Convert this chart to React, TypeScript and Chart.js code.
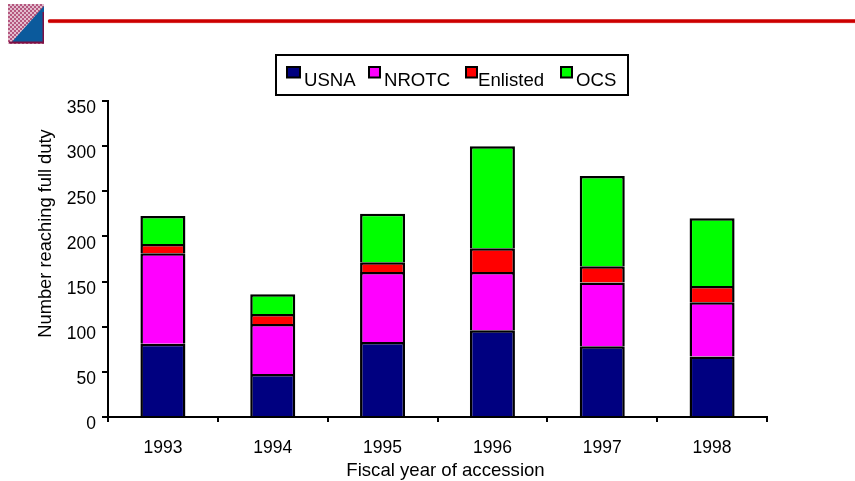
import React, { useEffect, useRef } from "react";
import { Chart, registerables } from "chart.js";

Chart.register(...registerables);

const years = ["1993", "1994", "1995", "1996", "1997", "1998"];
const usna = [81, 47.5, 83, 96, 78.5, 67];
const nrotc = [100.5, 55.5, 77.5, 64.5, 70.5, 60];
const enlisted = [10, 11, 11, 26.5, 18, 18];
const ocs = [31, 22, 53.5, 113, 100, 75];

const seriesNames = ["USNA", "NROTC", "Enlisted", "OCS"];
const seriesColors = ["#000080", "#ff00ff", "#ff0000", "#00ff00"];
const yTitle = "Number reaching full duty";
const xTitle = "Fiscal year of accession";
const FONT = '"Liberation Sans", Arial, sans-serif';

const legendSwatchX = [287, 369, 466, 561];
const legendSwatchW = [13, 11, 11, 11];
const legendTextX = [304, 384, 478, 576];

const decorPlugin = {
  id: "decor",
  afterDraw(chart: any) {
    const ctx = chart.ctx as CanvasRenderingContext2D;
    ctx.save();

    // logo
    ctx.fillStyle = "#e2bccd";
    ctx.fillRect(8, 4, 36, 40);
    ctx.fillStyle = "#b5577f";
    for (let y = 4; y < 44; y += 2) {
      for (let x = 8 + ((y / 2) % 2) * 2; x < 44; x += 4) {
        ctx.fillRect(x, y, 2, 2);
      }
    }
    ctx.fillStyle = "#0b5a9c";
    ctx.beginPath();
    ctx.moveTo(44, 6);
    ctx.lineTo(44, 43);
    ctx.lineTo(11, 43);
    ctx.closePath();
    ctx.fill();
    ctx.fillStyle = "#7c1044";
    ctx.fillRect(9, 41.5, 35, 2);
    ctx.fillRect(42.5, 12, 1.5, 31);

    // rule
    ctx.fillStyle = "#f4a0a0";
    ctx.fillRect(48, 22, 807, 1.2);
    ctx.strokeStyle = "#cc0000";
    ctx.lineWidth = 3.4;
    ctx.lineCap = "round";
    ctx.beginPath();
    ctx.moveTo(49.5, 21);
    ctx.lineTo(860, 21);
    ctx.stroke();

    // legend
    ctx.lineCap = "butt";
    ctx.strokeStyle = "#000";
    ctx.lineWidth = 2;
    ctx.fillStyle = "#fff";
    ctx.fillRect(276, 55, 352, 40);
    ctx.strokeRect(276, 55, 352, 40);
    ctx.font = `18.6px ${FONT}`;
    ctx.textBaseline = "alphabetic";
    ctx.textAlign = "left";
    seriesNames.forEach((name, i) => {
      ctx.fillStyle = seriesColors[i];
      ctx.fillRect(legendSwatchX[i], 67, legendSwatchW[i], 10.5);
      ctx.strokeRect(legendSwatchX[i], 67, legendSwatchW[i], 10.5);
      ctx.fillStyle = "#000";
      ctx.fillText(name, legendTextX[i], 86);
    });

    // axis titles
    ctx.font = `18.6px ${FONT}`;
    ctx.fillStyle = "#000";
    ctx.textAlign = "center";
    ctx.fillText(xTitle, 445.5, 476);
    ctx.font = `18.3px ${FONT}`;
    ctx.translate(51, 233.5);
    ctx.rotate(-Math.PI / 2);
    ctx.fillText(yTitle, 0, 0);
    ctx.restore();
  },
};

export default function App() {
  const ref = useRef<HTMLCanvasElement>(null);
  useEffect(() => {
    const data = [usna, nrotc, enlisted, ocs];
    const chart = new Chart(ref.current!, {
      type: "bar",
      data: {
        labels: years,
        datasets: seriesNames.map((name, i) => ({
          label: name,
          data: data[i],
          backgroundColor: seriesColors[i],
          borderColor: "#000",
          borderWidth: 2.5,
          categoryPercentage: 1,
          barPercentage: 0.41,
        })),
      },
      options: {
        animation: false,
        responsive: false,
        layout: { padding: { left: 0, right: 88, top: 101, bottom: 0 } },
        plugins: { legend: { display: false }, title: { display: false }, tooltip: { enabled: false } },
        scales: {
          x: {
            stacked: true,
            afterFit: (s: any) => { s.height = 64; },
            border: { color: "#000", width: 2 },
            grid: { drawOnChartArea: false, color: "#000", lineWidth: 2, tickLength: 5, tickColor: "#000", tickWidth: 2 },
            ticks: { color: "#000", font: { family: FONT, size: 17.5 }, padding: 16, maxRotation: 0 },
          },
          y: {
            stacked: true,
            min: 0,
            max: 350,
            afterFit: (s: any) => { s.width = 108; },
            border: { color: "#000", width: 2 },
            grid: { drawOnChartArea: false, color: "#000", lineWidth: 2, tickLength: 6, tickColor: "#000", tickWidth: 2 },
            ticks: { color: "#000", font: { family: FONT, size: 17.5 }, padding: 6, stepSize: 50, labelOffset: 7.5 },
          },
        },
      },
      plugins: [decorPlugin],
    } as any);
    return () => chart.destroy();
  }, []);
  return (
    <div style={{ position: "absolute", left: 0, top: 0, width: 855, height: 481, background: "#fff" }}>
      <canvas ref={ref} width={855} height={481} style={{ display: "block" }} />
    </div>
  );
}
